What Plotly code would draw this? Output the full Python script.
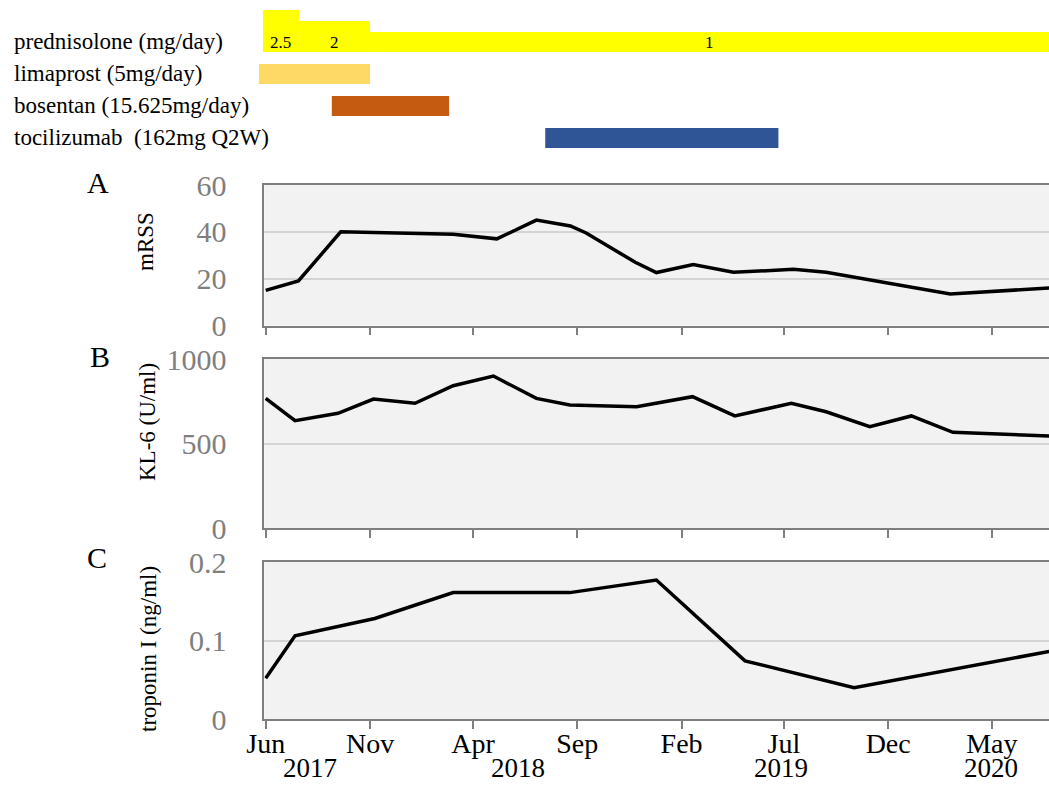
import plotly.graph_objects as go
import pandas as pd

# ---------------- data ----------------
mrss_dates = ["2017-06-01", "2017-07-19", "2017-09-19", "2018-03-03", "2018-05-06",
              "2018-07-03", "2018-08-22", "2018-09-14", "2018-11-25", "2018-12-26",
              "2019-02-18", "2019-04-18", "2019-07-15", "2019-09-01", "2020-03-01",
              "2020-07-24"]
mrss_values = [15, 19, 40, 39, 37, 45, 42.5, 39.5, 27, 22.6, 26, 22.7, 24, 22.7, 13.5, 16]

kl6_dates = ["2017-06-01", "2017-07-14", "2017-09-15", "2017-11-06", "2018-01-06",
             "2018-03-03", "2018-05-01", "2018-07-03", "2018-08-21", "2018-11-27",
             "2019-02-17", "2019-04-20", "2019-07-12", "2019-09-01", "2019-11-04",
             "2020-01-04", "2020-03-05", "2020-07-24"]
kl6_values = [767, 635, 679, 763, 738, 842, 899, 767, 728, 718, 777, 663, 738, 688,
              599, 663, 566, 544]

trop_dates = ["2017-06-01", "2017-07-14", "2017-11-08", "2018-03-03", "2018-08-21",
              "2018-12-26", "2019-05-05", "2019-10-12", "2020-07-24"]
trop_values = [0.052, 0.106, 0.128, 0.161, 0.161, 0.177, 0.074, 0.040, 0.086]

pred_starts = ["2017-05-28", "2017-07-20", "2017-11-01"]
pred_ends = ["2017-07-20", "2017-11-01", "2020-07-24"]
pred_doses = [2.5, 2, 1]
pred_labels = ["2.5", "2", "1"]

drug_names = ["prednisolone (mg/day)", "limaprost (5mg/day)",
              "bosentan (15.625mg/day)", "tocilizumab  (162mg Q2W)"]
other_drugs = ["limaprost", "bosentan", "tocilizumab"]
other_starts = ["2017-05-22", "2017-09-06", "2018-07-16"]
other_ends = ["2017-11-01", "2018-02-25", "2019-06-23"]

tick_dates = ["2017-06-01", "2017-11-01", "2018-04-01", "2018-09-01",
              "2019-02-01", "2019-07-01", "2019-12-01", "2020-05-01"]
tick_months = ["Jun", "Nov", "Apr", "Sep", "Feb", "Jul", "Dec", "May"]
year_labels = ["2017", "2018", "2019", "2020"]

# ---------------- styling / layout constants ----------------
W, H = 1049, 785
FONT = "Liberation Serif, Times New Roman, serif"
GRAY = "#7f7f7f"
BG = "#f2f2f2"
GRID = "#d4d4d4"


def px(xw):      # pixel x -> paper x
    return xw / W


def py(yw):      # pixel y -> paper y
    return 1 - yw / H


PX_LEFT = 264.3
REF_PX = 265.7                      # pixel of 2017-06-01
PX_PER_DAY = 0.6818
ref_day = pd.Timestamp("2017-06-01")


def px_to_date(p):
    return (ref_day + pd.Timedelta(days=(p - REF_PX) / PX_PER_DAY)).strftime("%Y-%m-%d %H:%M")


x_range = [px_to_date(PX_LEFT), px_to_date(W)]
TOP_LEFT = 250
x_range_top = [px_to_date(TOP_LEFT), px_to_date(W)]


def ydom(top_px, bot_px):
    return [py(bot_px), py(top_px)]


panels = [(185, 325.5), (359, 528), (562, 719)]

ROW_PX0, ROW_STEP = 42, 32
TOP_PANEL_PX = (0, 160)
thick_px = {2.5: 42, 2: 31, 1: 20}
bar_px = 20
pred_color = "#ffff00"
other_colors = ["#ffd966", "#c55a11", "#2f5597"]

fig = go.Figure()

# ---- drug bars ----
for s, e, d in zip(pred_starts, pred_ends, pred_doses):
    dur = (pd.Timestamp(e) - pd.Timestamp(s)).total_seconds() * 1000
    th = thick_px[d] / ROW_STEP
    fig.add_trace(go.Bar(
        orientation="h", y=[0], x=[dur], base=[s],
        width=[th], offset=[(bar_px / 2) / ROW_STEP - th],
        marker=dict(color=pred_color, line=dict(width=0)),
        xaxis="x4", yaxis="y4", showlegend=False, hoverinfo="skip"))

for k, (name, s, e) in enumerate(zip(other_drugs, other_starts, other_ends)):
    dur = (pd.Timestamp(e) - pd.Timestamp(s)).total_seconds() * 1000
    th = bar_px / ROW_STEP
    fig.add_trace(go.Bar(
        orientation="h", y=[k + 1], x=[dur], base=[s], name=name,
        width=[th], offset=[-th / 2],
        marker=dict(color=other_colors[k], line=dict(width=0)),
        xaxis="x4", yaxis="y4", showlegend=False, hoverinfo="skip"))

# ---- line charts ----
series = [(mrss_dates, mrss_values, "x", "y"),
          (kl6_dates, kl6_values, "x2", "y2"),
          (trop_dates, trop_values, "x3", "y3")]
for xs, ys, xa, ya in series:
    fig.add_trace(go.Scatter(x=xs, y=ys, mode="lines",
                             line=dict(color="black", width=3.5),
                             xaxis=xa, yaxis=ya, showlegend=False))

# ---- axes ----
xdom = [px(PX_LEFT), 1]
common_x = dict(type="date", domain=xdom, range=x_range, showgrid=False, zeroline=False,
                automargin=False,
                showline=True, mirror=True, linecolor=GRAY, linewidth=1.5,
                ticks="outside", ticklen=8, tickwidth=1.5, tickcolor=GRAY,
                tickvals=tick_dates, ticktext=tick_months, ticklabelstandoff=-9,
                tickfont=dict(family=FONT, size=28, color="black"))
y_specs = [
    dict(range=[0, 60], tickvals=[0, 20, 40, 60], ticktext=["0", "20", "40", "60"]),
    dict(range=[0, 1000], tickvals=[0, 500, 1000], ticktext=["0", "500", "1000"]),
    dict(range=[0, 0.2], tickvals=[0, 0.1, 0.2], ticktext=["0", "0.1", "0.2"]),
]
layout_axes = {}
for i, ((tp, bp), ys) in enumerate(zip(panels, y_specs)):
    suffix = "" if i == 0 else str(i + 1)
    xa = dict(common_x, anchor="y" + suffix, showticklabels=(i == 2))
    ya = dict(ys, domain=ydom(tp, bp), anchor="x" + suffix, showgrid=True,
              gridcolor=GRID, gridwidth=1.5, zeroline=False, showline=True,
              automargin=False,
              linecolor=GRAY, linewidth=1.5, ticks="", ticklabelstandoff=30,
              tickfont=dict(family=FONT, size=30, color=GRAY))
    layout_axes["xaxis" + suffix] = xa
    layout_axes["yaxis" + suffix] = ya

layout_axes["xaxis4"] = dict(type="date", domain=[px(TOP_LEFT), 1], range=x_range_top,
                             visible=False, anchor="y4", automargin=False)
layout_axes["yaxis4"] = dict(domain=ydom(*TOP_PANEL_PX),
                             range=[(TOP_PANEL_PX[1] - ROW_PX0) / ROW_STEP,
                                    (TOP_PANEL_PX[0] - ROW_PX0) / ROW_STEP],
                             visible=False, anchor="x4", automargin=False)

# ---- shapes: grey plot backgrounds ----
shapes = []
for i in range(3):
    suffix = "" if i == 0 else str(i + 1)
    shapes.append(dict(type="rect", xref="x%s domain" % suffix, yref="y%s domain" % suffix,
                       x0=0, x1=1, y0=0, y1=1, fillcolor=BG, line=dict(width=0),
                       layer="below"))

# ---- annotations ----
ann = []
for s, e, lab in zip(pred_starts, pred_ends, pred_labels):
    mid = pd.Timestamp(s) + (pd.Timestamp(e) - pd.Timestamp(s)) / 2
    ann.append(dict(x=mid.strftime("%Y-%m-%d"), y=0, xref="x4", yref="y4", text=lab,
                    showarrow=False, font=dict(family=FONT, size=17, color="black")))
for k, name in enumerate(drug_names):
    ann.append(dict(x=px(12), y=py(ROW_PX0 + ROW_STEP * k), xref="paper", yref="paper",
                    text=name, showarrow=False, xanchor="left", yanchor="middle",
                    font=dict(family=FONT, size=23, color="black")))
for letter, (lx, ly) in zip(["A", "B", "C"], [(98, 183), (100, 356), (97, 557)]):
    ann.append(dict(x=px(lx), y=py(ly), xref="paper", yref="paper", text=letter,
                    showarrow=False, xanchor="center", yanchor="middle",
                    font=dict(family=FONT, size=30, color="black")))
for t, (tx, ty) in zip(["mRSS", "KL-6 (U/ml)", "troponin I (ng/ml)"],
                       [(146, 242), (147, 422), (148, 649)]):
    ann.append(dict(x=px(tx), y=py(ty), xref="paper", yref="paper", text=t,
                    textangle=-90, showarrow=False, xanchor="center", yanchor="middle",
                    font=dict(family=FONT, size=23, color="black")))
for yl, yx in zip(year_labels, [310, 518, 781, 991]):
    ann.append(dict(x=px(yx), y=0, xref="paper", yref="paper", text=yl,
                    showarrow=False, xanchor="center", yanchor="bottom",
                    font=dict(family=FONT, size=27, color="black")))

fig.update_layout(
    width=W, height=H, margin=dict(l=0, r=0, t=0, b=0, autoexpand=False),
    paper_bgcolor="white", plot_bgcolor="white",
    barmode="overlay", showlegend=False,
    shapes=shapes, annotations=ann,
    **layout_axes)

# remove the page's default body margin so the figure fills the window exactly
fig.write_html("out.html", config={"displayModeBar": False},
               post_script="document.body.style.margin='0';document.body.style.overflow='hidden';")
